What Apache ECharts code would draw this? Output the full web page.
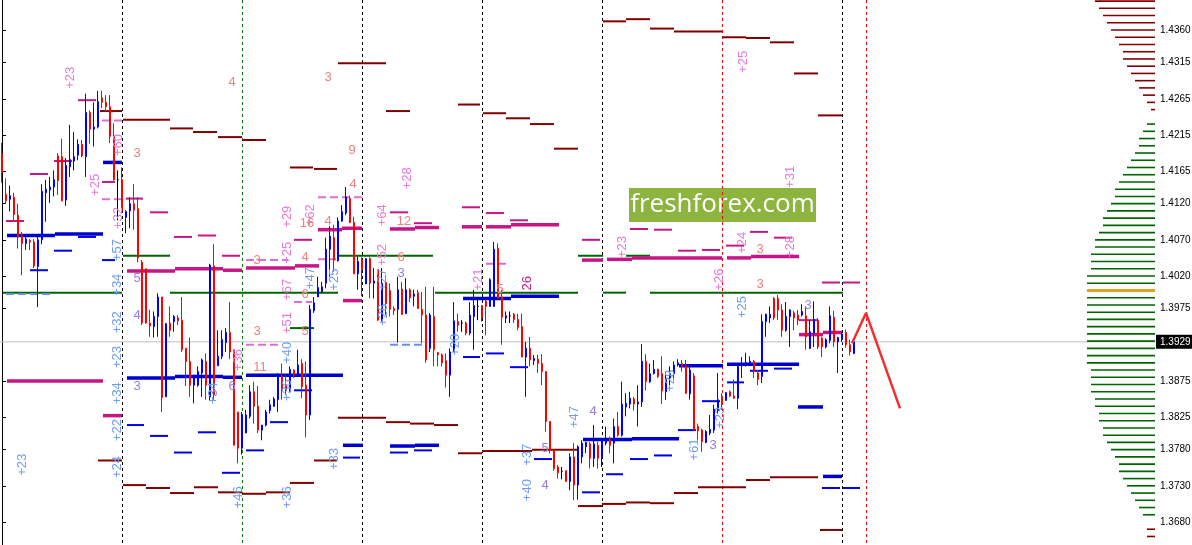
<!DOCTYPE html>
<html><head><meta charset="utf-8">
<script src="https://cdn.jsdelivr.net/npm/echarts@6/dist/echarts.min.js"></script>
<style>html,body{margin:0;padding:0;background:#fff}#c{width:1192px;height:545px}</style>
</head><body><div id="c"></div>
<script>
// ---------- candles: [open, close, low, high], one bar per slot ----------
const day0 = [
[1.4189,1.4163,1.4149,1.4204],[1.4133,1.4124,1.4120,1.4155],[1.4126,1.4131,1.4109,1.4145],[1.4129,1.4105,1.4097,1.4135],
[1.4104,1.4074,1.4058,1.4120],[1.4076,1.4065,1.4021,1.4081],[1.4065,1.4071,1.4056,1.4074],[1.4069,1.4067,1.4056,1.4071],
[1.4067,1.4034,1.4031,1.4071],[1.4033,1.4070,1.3977,1.4074],[1.4070,1.4137,1.4064,1.4147],[1.4135,1.4140,1.4095,1.4153],
[1.4139,1.4143,1.4121,1.4157],[1.4143,1.4153,1.4130,1.4166],[1.4186,1.4152,1.4132,1.4190],[1.4185,1.4124,1.4123,1.4210],
[1.4125,1.4173,1.4117,1.4183],[1.4171,1.4181,1.4157,1.4229],[1.4179,1.4185,1.4166,1.4219],[1.4187,1.4202,1.4180,1.4209],
[1.4202,1.4186,1.4184,1.4208],[1.4185,1.4246,1.4157,1.4272],[1.4246,1.4223,1.4203,1.4249],[1.4223,1.4226,1.4199,1.4260],
[1.4226,1.4261,1.4224,1.4276],[1.4266,1.4260,1.4252,1.4276],[1.4260,1.4254,1.4247,1.4270],[1.4254,1.4213,1.4204,1.4270],
[1.4213,1.4153,1.4152,1.4231],[1.4153,1.4153,1.4097,1.4166]];
const day1 = [
[1.4153,1.4110,1.4109,1.4170],[1.4101,1.4109,1.4079,1.4111],[1.4110,1.4120,1.4086,1.4129],[1.4120,1.4111,1.4084,1.4147],
[1.4113,1.4045,1.4039,1.4129],[1.4039,1.3955,1.3952,1.4042],[1.4030,1.3955,1.3954,1.4030],[1.3955,1.3951,1.3936,1.3973],
[1.3950,1.3964,1.3935,1.3971],[1.3964,1.3991,1.3936,1.3996],[1.3991,1.3852,1.3832,1.3991],[1.3853,1.3954,1.3853,1.3955],
[1.3955,1.3945,1.3936,1.3978],[1.3957,1.3964,1.3943,1.3966],[1.3962,1.3958,1.3952,1.3966],[1.3959,1.3918,1.3915,1.3991],
[1.3920,1.3902,1.3868,1.3920],[1.3902,1.3869,1.3853,1.3935],[1.3869,1.3883,1.3844,1.3883],[1.3869,1.3888,1.3867,1.3895],
[1.3886,1.3904,1.3853,1.3906],[1.3902,1.3869,1.3849,1.3913],[1.3853,1.4035,1.3848,1.4037],[1.4034,1.3856,1.3849,1.4064],
[1.3896,1.3909,1.3896,1.3945],[1.3909,1.3932,1.3905,1.3945],[1.3928,1.3942,1.3915,1.3948],[1.3942,1.3915,1.3905,1.3984],
[1.3918,1.3786,1.3786,1.3918],[1.3832,1.3782,1.3761,1.3832]];
const day2 = [
[1.3782,1.3828,1.3773,1.3832],[1.3803,1.3828,1.3803,1.3835],[1.3826,1.3860,1.3823,1.3869],[1.3860,1.3840,1.3816,1.3874],
[1.3840,1.3807,1.3803,1.3868],[1.3807,1.3814,1.3793,1.3814],[1.3814,1.3832,1.3812,1.3835],[1.3834,1.3842,1.3830,1.3849],
[1.3840,1.3850,1.3839,1.3853],[1.3849,1.3882,1.3832,1.3886],[1.3882,1.3863,1.3849,1.3899],[1.3868,1.3861,1.3856,1.3883],
[1.3860,1.3891,1.3860,1.3895],[1.3890,1.3883,1.3879,1.3891],[1.3881,1.3897,1.3881,1.3918],[1.3899,1.3867,1.3851,1.3905],
[1.3869,1.3828,1.3797,1.3902],[1.3828,1.3974,1.3821,1.3980],[1.3972,1.3983,1.3969,1.3991],[1.3991,1.4004,1.3991,1.4019],
[1.3998,1.4005,1.3996,1.4012],[1.4010,1.4057,1.4003,1.4073],[1.4057,1.4075,1.4019,1.4089],[1.4073,1.4042,1.4026,1.4091],
[1.4041,1.4096,1.4040,1.4101],[1.4096,1.4109,1.4095,1.4118],[1.4107,1.4129,1.4104,1.4143],[1.4127,1.4094,1.4093,1.4131],
[1.4094,1.4023,1.4023,1.4102],[1.4023,1.4040,1.4001,1.4047]];
const day3 = [
[1.4043,1.4029,1.3992,1.4046],[1.4009,1.4044,1.4009,1.4044],[1.4044,1.4010,1.3989,1.4046],[1.4010,1.4013,1.3989,1.4031],
[1.4029,1.3959,1.3958,1.4029],[1.3959,1.4010,1.3957,1.4031],[1.4011,1.3982,1.3966,1.4021],[1.4000,1.3974,1.3964,1.4010],
[1.3975,1.3972,1.3966,1.3978],[1.3974,1.4001,1.3928,1.4019],[1.4002,1.3967,1.3966,1.4012],[1.3968,1.4001,1.3968,1.4017],
[1.4001,1.3990,1.3984,1.4003],[1.3992,1.3995,1.3978,1.4001],[1.3997,1.3975,1.3975,1.4001],[1.3974,1.3966,1.3927,1.3998],
[1.3966,1.3904,1.3900,1.4005],[1.3920,1.3966,1.3915,1.3969],[1.3964,1.3918,1.3895,1.4005],[1.3914,1.3911,1.3895,1.3915],
[1.3911,1.3900,1.3895,1.3913],[1.3903,1.3883,1.3866,1.3913],[1.3883,1.3915,1.3853,1.3920],[1.3915,1.3958,1.3915,1.3984],
[1.3957,1.3952,1.3943,1.3968],[1.3955,1.3955,1.3943,1.3959],[1.3955,1.3941,1.3938,1.3957],[1.3941,1.3966,1.3938,1.3984],
[1.3964,1.3979,1.3918,1.4001],[1.3978,1.3978,1.3959,1.3991]];
const day4 = [
[1.3979,1.3962,1.3957,1.3980],[1.3985,1.3978,1.3938,1.3987],[1.3978,1.4015,1.3978,1.4017],[1.3978,1.4057,1.3978,1.4067],
[1.4058,1.3989,1.3988,1.4065],[1.3991,1.3963,1.3925,1.4001],[1.3962,1.3965,1.3955,1.3971],[1.3965,1.3965,1.3955,1.3971],
[1.3967,1.3960,1.3955,1.3969],[1.3960,1.3949,1.3945,1.3968],[1.3950,1.3908,1.3908,1.3968],[1.3908,1.3920,1.3853,1.3929],
[1.3920,1.3904,1.3895,1.3936],[1.3903,1.3906,1.3897,1.3911],[1.3905,1.3899,1.3886,1.3911],[1.3899,1.3888,1.3869,1.3912],
[1.3888,1.3819,1.3805,1.3888],[1.3819,1.3780,1.3775,1.3819],[1.3780,1.3754,1.3751,1.3780],[1.3756,1.3748,1.3740,1.3759],
[1.3750,1.3750,1.3739,1.3756],[1.3751,1.3736,1.3736,1.3751],[1.3736,1.3770,1.3724,1.3775],[1.3770,1.3731,1.3710,1.3789],
[1.3731,1.3784,1.3711,1.3786],[1.3770,1.3789,1.3761,1.3793],[1.3784,1.3790,1.3775,1.3791],[1.3788,1.3768,1.3754,1.3791],
[1.3768,1.3788,1.3756,1.3814],[1.3786,1.3768,1.3754,1.3791]];
const day5 = [
[1.3769,1.3793,1.3756,1.3796],[1.3789,1.3794,1.3786,1.3812],[1.3794,1.3786,1.3775,1.3798],[1.3789,1.3812,1.3761,1.3823],
[1.3812,1.3800,1.3798,1.3832],[1.3800,1.3843,1.3798,1.3874],[1.3839,1.3844,1.3826,1.3858],[1.3843,1.3851,1.3837,1.3860],
[1.3850,1.3843,1.3834,1.3853],[1.3843,1.3846,1.3812,1.3869],[1.3846,1.3902,1.3839,1.3926],[1.3902,1.3874,1.3862,1.3912],
[1.3874,1.3885,1.3872,1.3899],[1.3885,1.3891,1.3884,1.3904],[1.3891,1.3881,1.3879,1.3892],[1.3885,1.3861,1.3843,1.3909],
[1.3860,1.3879,1.3849,1.3888],[1.3879,1.3885,1.3862,1.3895],[1.3885,1.3897,1.3876,1.3902],[1.3897,1.3900,1.3895,1.3905],
[1.3899,1.3895,1.3888,1.3904],[1.3896,1.3858,1.3857,1.3904],[1.3857,1.3890,1.3849,1.3897],[1.3882,1.3807,1.3807,1.3886],
[1.3812,1.3806,1.3793,1.3816],[1.3807,1.3791,1.3777,1.3809],[1.3790,1.3805,1.3789,1.3807],[1.3803,1.3808,1.3800,1.3828],
[1.3807,1.3836,1.3803,1.3842],[1.3834,1.3849,1.3830,1.3886]];
const day6 = [
[1.3851,1.3846,1.3835,1.3858],[1.3848,1.3859,1.3848,1.3859],[1.3860,1.3854,1.3853,1.3862],[1.3854,1.3851,1.3850,1.3877],
[1.3851,1.3895,1.3836,1.3899],[1.3896,1.3899,1.3879,1.3908],[1.3897,1.3900,1.3895,1.3914],[1.3897,1.3902,1.3897,1.3909],
[1.3902,1.3888,1.3879,1.3904],[1.3886,1.3877,1.3869,1.3890],[1.3881,1.3957,1.3872,1.3967],[1.3957,1.3967,1.3936,1.3968],
[1.3962,1.3967,1.3955,1.3978],[1.3989,1.3962,1.3959,1.3991],[1.3989,1.3973,1.3959,1.3994],[1.3973,1.3945,1.3936,1.3981],
[1.3945,1.3964,1.3943,1.3984],[1.3964,1.3973,1.3922,1.3974],[1.3969,1.3962,1.3945,1.3972],[1.3966,1.3959,1.3952,1.3973],
[1.3966,1.3971,1.3964,1.3981],[1.3965,1.3936,1.3918,1.3978],[1.3920,1.3943,1.3919,1.3959],[1.3941,1.3960,1.3922,1.3985],
[1.3959,1.3922,1.3919,1.3962],[1.3934,1.3922,1.3908,1.3936],[1.3922,1.3932,1.3920,1.3934],[1.3931,1.3965,1.3927,1.3978],
[1.3963,1.3929,1.3922,1.3972],[1.3929,1.3935,1.3886,1.3936]];
const day7 = [[1.3932,1.3940,1.3929,1.3942],[1.3942,1.3925,1.3921,1.3946],[1.3925,1.3915,1.3910,1.3932],[1.3913,1.3929,1.3912,1.3929]];

// ---------- level segments: [fromBar, toBar, price] ----------
const maroonLevels = [
[24.5,30,1.4248],[30.25,42,1.4236],[42,47.75,1.4224],[47.75,53.75,1.4219],[54,60,1.4212],[60,66,1.4208],
[72,77.75,1.4170],[78,83.75,1.4168],[84,96,1.4314],[96,102,1.4248],[114,119.5,1.4257],
[120.25,126,1.4245],[126,132,1.4238],[132,138,1.4230],[138,144,1.4196],
[150.25,156,1.4372],[156,162,1.4375],[162,168,1.4362],[168,180,1.4358],[180,186,1.4350],[186,192,1.4349],[192,198,1.4343],[198,204,1.4300],[204,210,1.4242],
[24,30,1.3765],[30.25,36,1.3731],[36,42,1.3727],[42,48,1.3720],[48,54,1.3728],[54,60,1.3721],[60,66,1.3719],[66,72,1.3721],[72,78,1.3734],[78,83.75,1.3765],
[84,96,1.3824],[96,102,1.3818],[102,108,1.3816],[108,114,1.3814],[114,120,1.3775],[120,132.5,1.3778],[132.5,144,1.3780],[144,150,1.3702],[150,156,1.3705],
[156,162,1.3707],[162,168,1.3706],[168,174,1.3720],[174,186,1.3728],[186,192,1.3738],[192,204,1.3742],[204.5,210,1.3669]];
const magentaMain = [
[1.25,25.25,1.3875],[25.25,30,1.3827],[31.25,43.25,1.4027],[43.25,55.25,1.4030],[55.25,60,1.4028],[61,73.25,1.4031],[73.25,79.25,1.4034],
[79,85,1.4084],[85,90,1.4086],[85.25,90,1.3986],[97,103.25,1.4085],[103.25,109.25,1.4087],[115,120,1.4088],[121,127.25,1.4088],[127.25,139.25,1.4091],
[145,150.25,1.4042],[151.25,157.5,1.4043],[157.5,180,1.4045],[181.25,187.25,1.4045],[187.25,199.25,1.4047],[199.25,205.25,1.3939],[205.25,210,1.3942]];
const magentaMinor = [
[19,23.5,1.4263],[7,11.5,1.4161],[13,17.5,1.4179],[25,28.25,1.4150],[1,5.5,1.4096],[31,35.25,1.4127],[37,41.5,1.4108],[43,47.5,1.4074],
[49,53.5,1.4076],[55,59.5,1.4048],[73,77.5,1.4070],[97,101.5,1.4108],[103,107.5,1.4093],[115,119.5,1.4115],[121,125.5,1.4107],[127,131.5,1.4097],
[145,149.5,1.4070],[157,161.5,1.4085],[163,167.5,1.4084],[169,173.5,1.4055],[175,179.5,1.4056],[181,185.5,1.4062],[187,191.5,1.4081],[193,197.5,1.4073],
[199.25,203.75,1.3959],[205,209.5,1.4011],[210.25,214.5,1.4011]];
const blueMain = [
[1.25,13.25,1.4076],[13.25,25.25,1.4078],[25.25,30,1.4177],[31.25,43.25,1.3879],[43.25,55.25,1.3881],[55.25,60,1.3880],[61,85.25,1.3883],
[85.25,90.25,1.3786],[97,103.25,1.3785],[103.25,109.25,1.3786],[115.25,127.25,1.3989],[127.25,139.25,1.3992],[145.25,157.5,1.3794],[157.5,169.25,1.3795],
[169.25,180.25,1.3896],[181.25,199.25,1.3898],[199,205.25,1.3839],[205.25,210,1.3743]];
const blueMinor = [
[13,17.5,1.4055],[19,23.5,1.4074],[25,28.25,1.4042],[7,11.5,1.4028],[31.25,35.5,1.3814],[37,41.5,1.3799],[43,47.5,1.3776],[49,53.5,1.3804],
[55,59.5,1.3748],[61,65.5,1.3779],[67,71.5,1.3818],[73,77.5,1.3862],[85.25,89.5,1.3769],[97,101.5,1.3776],[103,107.5,1.3779],[115.25,119.5,1.3908],
[121,125.5,1.3913],[127,131.5,1.3894],[133,137.5,1.3767],[145,149.5,1.3721],[151,155.25,1.3746],[157,161.5,1.3767],[163,167.5,1.3772],[169,173.5,1.3807],
[175,179.5,1.3847],[181.25,185.5,1.3873],[187,191.5,1.3889],[193,197.5,1.3892],[205,209.5,1.3727],[210.25,214.5,1.3727]];
const greenLevels = [
[0.25,30,1.3997],[42,84,1.3997],[30.25,42,1.4048],[83.75,107.75,1.4048],[72,78,1.3948],[108.25,144,1.3997],
[144,150.25,1.4048],[156,162,1.4048],[150.25,156,1.3997],[162,210.25,1.3997]];
const violetLevels = [[25,30,1.4235],[25,30,1.4126],[79,90,1.4129],[61,71.5,1.4042],[79,83.5,1.4043],[73,77.5,1.3984],[61,69.5,1.3925],[121,126.25,1.4037]];
const lightBlueLevels = [[1,12,1.3995],[97,105.25,1.3925]];

// ---------- period separators (bar index) ----------
const sepBlack = [0,30,90,120,150,210];
const sepGreen = [60];
const sepRed = [180,216];

// ---------- forecast path: [bar, price] ----------
const forecast = [[212.5,1.3927],[216,1.3969],[224.5,1.3837]];
const lastPrice = 1.3929;

// ---------- annotations: [bar, price, text] ----------
const pinkTags = [
[17,1.4294,'+23'],[23.25,1.4146,'+25'],[29,1.4201,'+60'],[29,1.4100,'+32'],[59,1.3904,'+36'],[71.25,1.4102,'+29'],[77,1.4104,'+62'],
[71.25,1.4052,'+25'],[71.25,1.4001,'+67'],[71.25,1.3955,'+51'],[95,1.4104,'+64'],[101.25,1.4155,'+28'],[95,1.4049,'+52'],[119,1.4015,'+21'],
[155,1.4060,'+23'],[179.25,1.4015,'+26'],[185.25,1.4316,'+25'],[185,1.4066,'+24'],[197,1.4060,'+28'],[197,1.4157,'+31']];
const magentaTags = [[131.25,1.4010,'26']];
const blueTags = [
[5,1.3759,'+23'],[28.75,1.4056,'+57'],[28.75,1.4008,'+34'],[28.75,1.3956,'+32'],[28.75,1.3908,'+23'],[28.75,1.3858,'+34'],[28.75,1.3807,'+22'],
[28.75,1.3756,'+24'],[52.75,1.3858,'+34'],[59,1.3714,'+46'],[77,1.4017,'+47'],[83,1.4015,'+25'],[71.25,1.3914,'+40'],[71.25,1.3862,'+36'],
[83,1.3767,'+33'],[71.25,1.3714,'+36'],[95,1.4015,'+27'],[95.25,1.3966,'+26'],[113.25,1.3925,'+20'],[131.25,1.3773,'+37'],[131.25,1.3724,'+40'],
[143,1.3825,'+47'],[167,1.3875,'+28'],[173,1.3780,'+61'],[179.5,1.3824,'+23'],[185,1.3977,'+25']];
const salmonCounts = [
[33.75,1.4189,'3'],[57.5,1.4288,'4'],[81.5,1.4295,'3'],[87.5,1.4194,'9'],[87.75,1.4146,'4'],[76.25,1.4093,'16'],[81.5,1.4095,'4'],
[63.75,1.4042,'3'],[75.75,1.4045,'4'],[75.75,1.3994,'6'],[75.75,1.3943,'5'],[63.75,1.3943,'3'],[64.5,1.3893,'11'],[100.5,1.4096,'12'],
[99.75,1.4046,'6'],[124.5,1.4001,'5'],[189.5,1.4057,'3'],[189.5,1.4008,'3']];
const violetCounts = [
[33.75,1.4017,'5'],[33.75,1.3966,'4'],[33.75,1.3867,'3'],[57.5,1.3868,'6'],[99.75,1.4024,'3'],[135.75,1.3782,'5'],[135.75,1.3731,'4'],
[147.75,1.3833,'4'],[177.75,1.3786,'3'],[201.5,1.3980,'3']];

// ---------- price axis ticks ----------
const priceTicks = [1.4360,1.4315,1.4265,1.4215,1.4165,1.4120,1.4070,1.4020,1.3975,1.3875,1.3825,1.3780,1.3730,1.3680];

// ---------- volume profile ----------
const profilePrice = [1.4400,1.4390,1.4380,1.4370,1.4360,1.4350,1.4340,1.4330,1.4320,1.4310,1.4300,1.4290,1.4280,1.4270,1.4260,1.4250,
1.4230,1.4220,1.4210,1.4200,1.4190,1.4180,1.4170,1.4160,1.4150,1.4140,1.4130,1.4120,1.4110,1.4100,1.4090,1.4080,1.4070,1.4060,1.4050,1.4040,1.4030,1.4020,1.4010,1.4000,
1.3990,1.3980,1.3970,1.3960,1.3950,1.3940,1.3930,1.3920,1.3910,1.3900,1.3890,1.3880,1.3870,1.3860,1.3850,1.3840,1.3830,1.3820,1.3810,1.3800,
1.3790,1.3780,1.3770,1.3760,1.3750,1.3740,1.3730,1.3720,1.3710,1.3700,1.3690,1.3670,1.3660];
const profileVol = [15,14,13,12,11,10,9,8,8,7,6,5,4,3,2,1,
2,3,4,4,5,6,7,8,9,10,10,11,12,13,13,14,15,15,16,16,16,17,17,17,
17,17,17,17,17,17,17,17,17,17,16,16,16,16,15,15,14,14,13,13,
12,11,10,9,9,8,7,6,5,4,3,2,2];
const pocPrice = 1.4000, vaHigh = 1.4240, vaLow = 1.3680;

// ================= build =================
const ohlc = [].concat(day0, day1, day2, day3, day4, day5, day6, day7);
const candleData = ohlc.map((d, i) => [i, d[0], d[1], d[2], d[3]]);
const Y_MIN = 1.36482, Y_MAX = 1.44015;

function segSeries(data, color, width, dash, z) {
  return {
    type: 'custom', xAxisIndex: 0, yAxisIndex: 0, data: data, z: z, silent: true, clip: true,
    encode: { x: [0, 1], y: 2 },
    renderItem: function (params, api) {
      const a = api.coord([api.value(0), api.value(2)]);
      const b = api.coord([api.value(1), api.value(2)]);
      return { type: 'line', shape: { x1: a[0], y1: a[1], x2: b[0], y2: b[1] },
        style: { stroke: color, lineWidth: width, lineDash: dash || null } };
    }
  };
}
function sepSeries(data, color) {
  return {
    type: 'custom', xAxisIndex: 0, yAxisIndex: 0, data: data.map(v => [v, 1.40]), z: 1, silent: true,
    encode: { x: 0, y: 1 },
    renderItem: function (params, api) {
      const x = Math.round(api.coord([api.value(0), 1.40])[0]) + 0.5;
      const cs = params.coordSys;
      return { type: 'line', shape: { x1: x, y1: cs.y, x2: x, y2: cs.y + cs.height },
        style: { stroke: color, lineWidth: 1, lineDash: [3, 3] } };
    }
  };
}
function textSeries(data, color, rotated, size) {
  return {
    type: 'custom', xAxisIndex: 0, yAxisIndex: 0, data: data.map(d => [d[0], d[1]]), z: 8, silent: true,
    encode: { x: 0, y: 1 },
    renderItem: function (params, api) {
      const p = api.coord([api.value(0), api.value(1)]);
      return { type: 'text', x: p[0], y: p[1], rotation: rotated ? Math.PI / 2 : 0,
        style: { text: data[params.dataIndex][2], fill: color, font: size + 'px "Liberation Sans", Arial, sans-serif',
          align: 'center', verticalAlign: 'middle' } };
    }
  };
}

const chart = echarts.init(document.getElementById('c'), null, { renderer: 'canvas' });
chart.setOption({
  animation: false,
  backgroundColor: '#ffffff',
  grid: [
    { left: 0, right: 37, top: 0, bottom: 0, containLabel: false, outerBoundsMode: 'none' },
    { left: 1087, right: 37, top: 0, bottom: 0, containLabel: false, outerBoundsMode: 'none' }
  ],
  xAxis: [
    { type: 'value', gridIndex: 0, min: -0.5, max: 288.25, show: false },
    { type: 'value', gridIndex: 1, min: 0, max: 17, inverse: true, show: false }
  ],
  yAxis: [
    { type: 'value', gridIndex: 0, position: 'right', min: Y_MIN, max: Y_MAX,
      splitLine: { show: false },
      axisLine: { show: true, lineStyle: { color: '#000', width: 1 } },
      axisTick: { show: true, length: 4, customValues: priceTicks, lineStyle: { color: '#000' } },
      axisLabel: { customValues: priceTicks, formatter: v => v.toFixed(4), color: '#000', fontSize: 10,
        fontFamily: '"Liberation Sans", Arial, sans-serif', margin: 5 } },
    { type: 'value', gridIndex: 1, min: Y_MIN, max: Y_MAX, show: false }
  ],
  graphic: [{
    type: 'group', left: 629, top: 188, z: 100,
    children: [
      { type: 'rect', shape: { x: 0, y: 0, width: 187, height: 34 }, style: { fill: '#8db43e' } },
      { type: 'text', x: 93.5, y: 17, style: { text: 'freshforex.com', fill: '#ffffff',
          font: '26px "Open Sans", sans-serif', align: 'center', verticalAlign: 'middle' } }
    ]
  }],
  series: [
    sepSeries(sepBlack, '#000000'),
    sepSeries(sepGreen, '#008000'),
    sepSeries(sepRed, '#ff0000'),
    segSeries([[-0.5, 288.25, lastPrice]], '#c0c0c0', 1, null, 2),
    segSeries(greenLevels, '#006400', 2, null, 3),
    segSeries(maroonLevels, '#800000', 2, null, 3),
    segSeries(magentaMinor, '#c71585', 2, null, 3),
    segSeries(magentaMain, '#c71585', 3.5, null, 3),
    segSeries(blueMinor, '#0000ee', 2, null, 3),
    segSeries(blueMain, '#0000cd', 3.5, null, 3),
    segSeries(violetLevels, '#da70d6', 2, [8, 4], 3),
    segSeries(lightBlueLevels, '#6495ed', 2, [8, 4], 3),
    {
      type: 'candlestick', xAxisIndex: 0, yAxisIndex: 0, data: candleData, z: 5, barWidth: 2, silent: true,
      itemStyle: { color: '#0000ff', color0: '#ff0000', borderColor: '#0000ff', borderColor0: '#ff0000',
        borderColorDoji: '#000000', borderWidth: 1 }
    },
    {
      type: 'line', xAxisIndex: 0, yAxisIndex: 0, data: forecast, z: 6, symbol: 'none', silent: true,
      lineStyle: { color: '#f03030', width: 2.5 }
    },
    textSeries(pinkTags, '#e878dc', true, 13),
    textSeries(magentaTags, '#c71585', true, 13),
    textSeries(blueTags, '#6f9cf0', true, 13),
    textSeries(salmonCounts, '#ee8080', false, 13),
    textSeries(violetCounts, '#9a7ce6', false, 13),
    {
      type: 'custom', xAxisIndex: 1, yAxisIndex: 1, z: 4, silent: true,
      data: profilePrice.map((p, i) => [profileVol[i], p]),
      encode: { x: 0, y: 1 },
      renderItem: function (params, api) {
        const v = api.value(0), p = api.value(1);
        const a = api.coord([0, p]), b = api.coord([v, p]);
        let col = '#006400', w = 1.6;
        if (Math.abs(p - pocPrice) < 1e-6) { col = '#daa520'; w = 3; }
        else if (p > vaHigh || p < vaLow) col = '#800000';
        return { type: 'line', shape: { x1: a[0], y1: a[1], x2: b[0], y2: b[1] }, style: { stroke: col, lineWidth: w } };
      }
    },
    {
      type: 'custom', xAxisIndex: 0, yAxisIndex: 0, z: 20, silent: true, clip: false,
      data: [[candleData.length - 1, lastPrice]], encode: { x: 0, y: 1 },
      renderItem: function (params, api) {
        const y = api.coord([0, api.value(1)])[1];
        const x = params.coordSys.x + params.coordSys.width;
        return { type: 'group', children: [
          { type: 'rect', shape: { x: x + 1, y: y - 7, width: 37, height: 14 }, style: { fill: '#000' } },
          { type: 'text', x: x + 5, y: y, style: { text: lastPrice.toFixed(4), fill: '#fff',
              font: '10px "Liberation Sans", Arial, sans-serif', align: 'left', verticalAlign: 'middle' } }
        ] };
      }
    }
  ]
});
</script></body></html>
